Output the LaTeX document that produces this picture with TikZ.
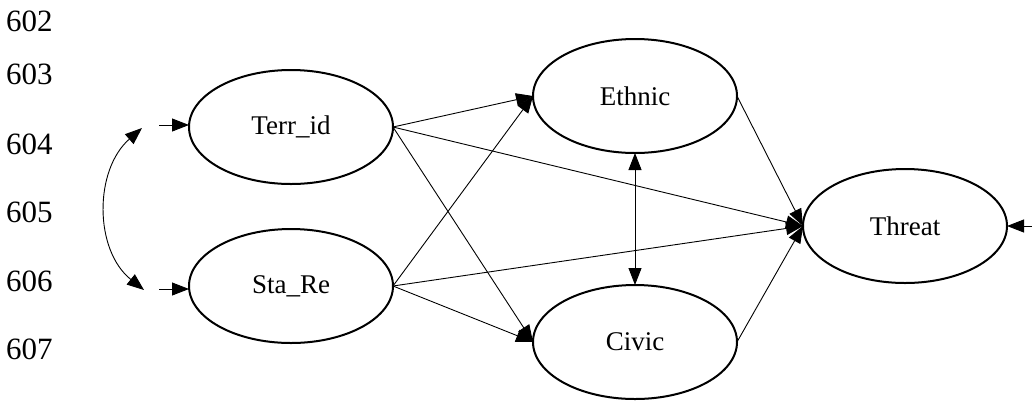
\documentclass[tikz,border=0pt]{standalone}
\usepackage{fontspec}
\setmainfont{Liberation Serif}
\usetikzlibrary{shapes.geometric,arrows.meta}
\begin{document}
\begin{tikzpicture}[x=1pt,y=-1pt,
  ell/.style={ellipse,draw,line width=2pt,minimum width=204pt,minimum height=114pt,inner sep=0pt,outer sep=0pt,font=\fontsize{27}{30}\selectfont},
  lnum/.style={anchor=west,inner sep=0pt,font=\fontsize{31}{34}\selectfont},
  arr/.style={line width=0.9pt,-{Triangle[length=17pt,width=13pt]}},
  darr/.style={line width=0.9pt,{Triangle[length=17pt,width=13pt]}-{Triangle[length=17pt,width=13pt]}}]
\useasboundingbox[fill=white] (0,0) rectangle (1032,400);
% line numbers
\node[lnum] (n602) at (6,21) {602};
\node[lnum] (n603) at (6,74) {603};
\node[lnum] (n604) at (6,144) {604};
\node[lnum] (n605) at (6,212) {605};
\node[lnum] (n606) at (6,281) {606};
\node[lnum] (n607) at (6,349) {607};
% ellipses
\node[ell] (terr) at (291,127) {Terr\_id};
\node[ell] (sta) at (291,286) {Sta\_Re};
\node[ell] (eth) at (635,96) {Ethnic};
\node[ell] (civ) at (635,342) {Civic};
\node[ell] (thr) at (905,226) {Threat};
% free ends
\coordinate (t0) at (159,125);
\coordinate (s0) at (159,289);
\coordinate (r0) at (1032,226);
\coordinate (c1) at (142,128);
\coordinate (c2) at (144,290);
% edges
\draw[arr] (t0) -- (terr.west |- t0);
\draw[arr] (s0) -- (sta.west |- s0);
\draw[arr] (r0) -- (thr.east);
\draw[darr] (c1) .. controls (94,170) and (94,250) .. (c2);
\draw[arr] (terr.east) -- (eth.west);
\draw[arr] (terr.east) -- (thr.west);
\draw[arr] (terr.east) -- (civ.west);
\draw[arr] (sta.east) -- (eth.west);
\draw[arr] (sta.east) -- (thr.west);
\draw[arr] (sta.east) -- (civ.west);
\draw[arr] (eth.east) -- (thr.west);
\draw[arr] (civ.east) -- (thr.west);
\draw[darr] (eth.south) -- (civ.north);
\end{tikzpicture}
\end{document}
